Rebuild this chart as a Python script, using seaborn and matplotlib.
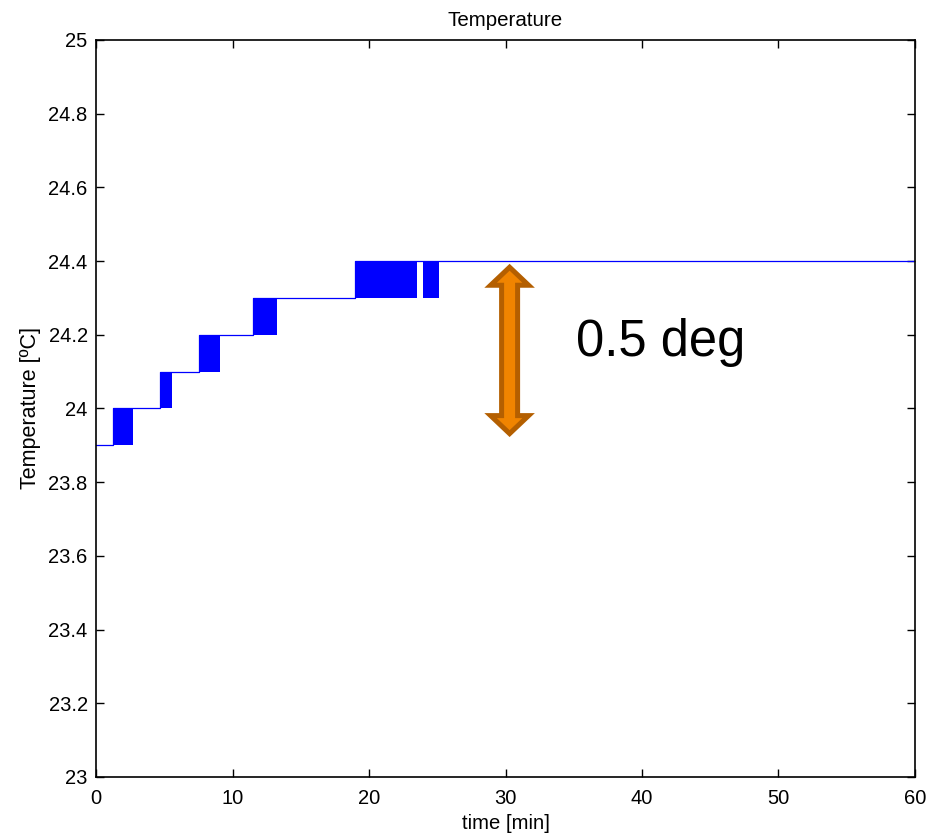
import numpy as np
import pandas as pd
import matplotlib
matplotlib.use("Agg")
import matplotlib.pyplot as plt
from matplotlib.patches import Polygon
from matplotlib.transforms import IdentityTransform
import seaborn as sns

# ---- data ----
levels = [23.9, 24.0, 24.1, 24.2, 24.3, 24.4]          # quantised temperature levels
level_change = [1.27, 4.69, 7.57, 11.48, 18.95]          # time [min] each new level starts toggling
burst_start = [1.27, 4.69, 7.57, 11.48, 18.95, 23.97]    # toggling bursts (start) [min]
burst_end = [2.68, 5.57, 9.11, 13.23, 23.49, 25.15]      # toggling bursts (end) [min]
burst_low = [23.9, 24.0, 24.1, 24.2, 24.3, 24.3]         # lower level of each burst
step = 0.1
t_end = 60

x_ticks = [0, 10, 20, 30, 40, 50, 60]
y_ticks = [23, 23.2, 23.4, 23.6, 23.8, 24, 24.2, 24.4, 24.6, 24.8, 25]
y_ticklabels = ["23", "23.2", "23.4", "23.6", "23.8", "24", "24.2", "24.4", "24.6", "24.8", "25"]

arrow_x = 30.3
arrow_top = 24.39
arrow_bottom = 23.925
annot_text = "0.5 deg"

# ---- style ----
sns.set_style("ticks")
plt.rcParams["font.family"] = ["Liberation Sans", "DejaVu Sans"]
plt.rcParams["xtick.direction"] = "in"
plt.rcParams["ytick.direction"] = "in"
for k in ["text.color", "axes.labelcolor", "xtick.color", "ytick.color", "axes.edgecolor"]:
    plt.rcParams[k] = "black"

fig = plt.figure(figsize=(9.35, 8.36), dpi=100)
ax = fig.add_axes([0.1027, 0.0706, 0.8759, 0.8816])

# step line path
xs, ys = [0], [levels[0]]
for i, tc in enumerate(level_change):
    xs += [tc, tc]
    ys += [levels[i], levels[i + 1]]
xs.append(t_end)
ys.append(levels[-1])
df = pd.DataFrame({"time": xs, "temp": ys})
sns.lineplot(data=df, x="time", y="temp", sort=False, estimator=None,
             color="#0000FF", linewidth=0.9, ax=ax)

# toggling bursts
for s, e, lo in zip(burst_start, burst_end, burst_low):
    ax.fill_between([s, e], [lo, lo], [lo + step, lo + step], color="#0000FF",
                    linewidth=0)

ax.set_xlim(0, 60)
ax.set_ylim(23, 25)
ax.set_xticks(x_ticks)
ax.set_yticks(y_ticks)
ax.set_yticklabels(y_ticklabels)
ax.tick_params(axis="both", which="both", labelsize=14.5, length=6, width=1.0,
               top=True, right=True, color="black")
ax.tick_params(axis="x", pad=9)
ax.tick_params(axis="y", pad=6)
for sp in ax.spines.values():
    sp.set_visible(True)
    sp.set_linewidth(1.2)
    sp.set_color("black")

ax.set_title("Temperature", fontsize=14.8, pad=10)
ax.set_xlabel("time [min]", fontsize=14.6, labelpad=4)
ax.set_ylabel("Temperature [ºC]", fontsize=15.5, labelpad=5)

# ---- double-headed orange arrow (drawn in pixel units) ----
(px, py_top) = ax.transData.transform((arrow_x, arrow_top))
(_, py_bot) = ax.transData.transform((arrow_x, arrow_bottom))
inset = 2.5
sw, hw, hl = 8.0, 19.0, 18.0
top = py_top - inset
bot = py_bot + inset
pts = [
    (px, top), (px + hw, top - hl), (px + sw, top - hl),
    (px + sw, bot + hl), (px + hw, bot + hl), (px, bot),
    (px - hw, bot + hl), (px - sw, bot + hl), (px - sw, top - hl),
    (px - hw, top - hl),
]
arrow = Polygon(pts, closed=True, transform=IdentityTransform(),
                facecolor="#F08400", edgecolor="#B45F00", linewidth=3.6,
                joinstyle="miter", zorder=5)
fig.add_artist(arrow)

ax.text(35.2, 24.178, annot_text, fontsize=36.5, va="center", ha="left")

fig.savefig("out.png", dpi=100)
